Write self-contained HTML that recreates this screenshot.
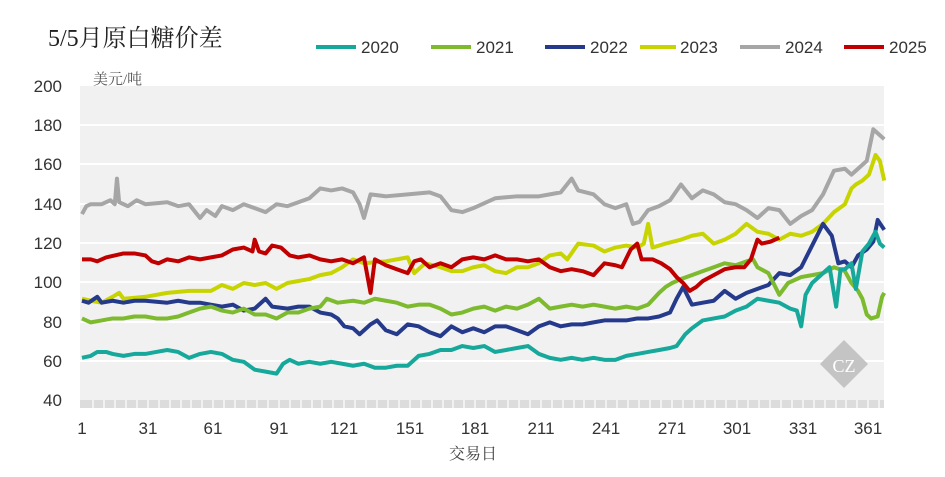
<!DOCTYPE html>
<html><head><meta charset="utf-8"><style>
body{margin:0;background:#fff;width:945px;height:472px;overflow:hidden;font-family:"Liberation Sans","Noto Sans CJK SC",sans-serif}
</style></head><body>
<svg width="945" height="472" xmlns="http://www.w3.org/2000/svg" font-family="Liberation Sans, Noto Sans CJK SC, sans-serif">
<text x="48" y="46" font-size="24" font-family="Liberation Serif, Noto Serif CJK SC, serif" fill="#222">5/5月原白糖价差</text>
<g font-size="17" fill="#333">
<line x1="316" y1="47" x2="356" y2="47" stroke="#16a89a" stroke-width="4"/><text x="361" y="53">2020</text>
<line x1="431" y1="47" x2="471" y2="47" stroke="#7dba2e" stroke-width="4"/><text x="476" y="53">2021</text>
<line x1="545" y1="47" x2="585" y2="47" stroke="#263a8c" stroke-width="4"/><text x="590" y="53">2022</text>
<line x1="640" y1="47" x2="676" y2="47" stroke="#c8d400" stroke-width="4"/><text x="680" y="53">2023</text>
<line x1="740" y1="47" x2="780" y2="47" stroke="#a6a6a6" stroke-width="4"/><text x="785" y="53">2024</text>
<line x1="844" y1="47" x2="884" y2="47" stroke="#c00000" stroke-width="4"/><text x="889" y="53">2025</text>
</g>
<rect x="80" y="86" width="804" height="314" fill="#f1f1f1"/>
<g stroke="#fff" stroke-width="2">
<line x1="80" y1="125" x2="884" y2="125"/><line x1="80" y1="164" x2="884" y2="164"/><line x1="80" y1="204" x2="884" y2="204"/><line x1="80" y1="243" x2="884" y2="243"/><line x1="80" y1="282" x2="884" y2="282"/><line x1="80" y1="322" x2="884" y2="322"/><line x1="80" y1="361" x2="884" y2="361"/>
</g>
<rect x="80" y="400" width="804" height="8" fill="#dcdcdc"/>
<g stroke="#fff" stroke-width="1" id="ticks"></g>
<g font-size="17" fill="#333" text-anchor="end">
<text x="62" y="92">200</text><text x="62" y="131">180</text><text x="62" y="170">160</text><text x="62" y="210">140</text><text x="62" y="249">120</text><text x="62" y="288">100</text><text x="62" y="328">80</text><text x="62" y="367">60</text><text x="62" y="406">40</text>
</g>
<text x="93" y="84" font-size="15" fill="#555" font-family="Liberation Serif, Noto Serif CJK SC, serif">美元/吨</text>
<g font-size="17" fill="#333" text-anchor="middle">
<text x="82" y="434">1</text><text x="148" y="434">31</text><text x="213" y="434">61</text><text x="279" y="434">91</text><text x="344" y="434">121</text><text x="410" y="434">151</text><text x="475" y="434">181</text><text x="541" y="434">211</text><text x="606" y="434">241</text><text x="672" y="434">271</text><text x="737" y="434">301</text><text x="803" y="434">331</text><text x="868" y="434">361</text>
</g>
<text x="473" y="459" font-size="16" fill="#444" text-anchor="middle" font-family="Liberation Serif, Noto Serif CJK SC, serif">交易日</text>
<g transform="translate(844,364) rotate(45)"><rect x="-17" y="-17" width="34" height="34" fill="#c4c4c4"/></g>
<text x="844" y="372" font-size="18" fill="#fff" text-anchor="middle" font-family="Liberation Serif, serif">CZ</text>
<g transform="translate(79.8,480) scale(2.186,-1.97)" fill="none" stroke-width="4" stroke-linejoin="round">
<polyline vector-effect="non-scaling-stroke" stroke="#a6a6a6" points="1,135 3,139 5,140 10,140 14,142 16,140 17,153 18,141 22,139 26,142 30,140 40,141 45,139 50,140 55,133 58,137 62,134 65,139 70,137 75,140 80,138 85,136 90,140 95,139 100,141 105,143 110,148 115,147 120,148 125,146 128,140 130,133 133,145 140,144 150,145 160,146 165,144 170,137 175,136 180,138 190,143 200,144 210,144 215,145 220,146 225,153 228,147 235,145 240,140 245,138 250,140 253,130 256,131 260,137 265,139 270,142 275,150 280,143 285,147 290,145 295,141 300,140 305,137 310,133 315,138 320,137 325,130 330,134 335,137 340,145 345,157 350,158 353,155 356,158 360,162 363,178 366,175 368,173"/>
<polyline vector-effect="non-scaling-stroke" stroke="#c8d400" points="1,92 5,91 10,90 15,93 18,95 20,92 30,93 40,95 50,96 60,96 65,99 70,97 75,100 80,99 85,100 90,97 95,100 100,101 105,102 110,104 115,105 120,108 125,112 130,110 140,111 145,112 150,113 153,105 158,110 165,108 170,106 175,106 180,108 185,109 190,106 195,105 200,108 205,108 210,110 215,114 220,115 223,112 228,120 235,119 240,116 245,118 250,119 255,118 258,120 260,130 262,118 268,120 275,122 280,124 285,125 290,120 295,122 300,125 305,130 310,126 315,125 320,122 325,125 330,124 335,126 340,130 345,136 350,140 353,148 355,150 358,152 361,155 364,165 366,162 368,152"/>
<polyline vector-effect="non-scaling-stroke" stroke="#263a8c" points="1,91 4,90 8,93 10,90 15,91 20,90 25,91 30,91 40,90 45,91 50,90 55,90 60,89 65,88 70,89 75,86 80,87 85,92 88,88 95,87 100,88 105,88 110,85 115,84 118,82 121,78 125,77 128,74 133,79 136,81 140,76 145,74 150,79 155,78 160,75 165,73 170,78 175,75 180,77 185,75 190,78 195,78 200,76 205,74 210,78 215,80 220,78 225,79 230,79 235,80 240,81 245,81 250,81 255,82 260,82 265,83 270,85 273,92 276,98 280,89 285,90 290,91 295,96 300,92 305,95 310,97 315,99 320,105 325,104 330,108 335,119 340,130 344,124 347,110 350,111 353,108 356,114 360,117 363,121 365,132 368,127"/>
<polyline vector-effect="non-scaling-stroke" stroke="#7dba2e" points="1,82 5,80 10,81 15,82 20,82 25,83 30,83 35,82 40,82 45,83 50,85 55,87 60,88 65,86 70,85 75,87 80,84 85,84 90,82 95,85 100,85 105,87 110,88 113,92 118,90 125,91 130,90 135,92 140,91 145,90 150,88 155,89 160,89 165,87 170,84 175,85 180,87 185,88 190,86 195,88 200,87 205,89 210,92 215,87 220,88 225,89 230,88 235,89 240,88 245,87 250,88 255,87 260,89 265,95 268,98 271,100 275,102 280,104 285,106 290,108 295,110 300,109 305,111 308,112 310,108 315,105 320,94 324,100 330,103 335,104 340,105 345,108 350,106 353,100 356,96 358,92 360,84 362,82 365,83 367,93 368,95"/>
<polyline vector-effect="non-scaling-stroke" stroke="#16a89a" points="1,62 5,63 8,65 12,65 15,64 20,63 25,64 30,64 35,65 40,66 45,65 50,62 55,64 60,65 65,64 70,61 75,60 80,56 85,55 90,54 93,59 96,61 100,59 105,60 110,59 115,60 120,59 125,58 130,59 135,57 140,57 145,58 150,58 155,63 160,64 165,66 170,66 175,68 180,67 185,68 190,65 195,66 200,67 205,68 210,64 215,62 220,61 225,62 230,61 235,62 240,61 245,61 250,63 255,64 260,65 265,66 270,67 273,68 277,74 280,77 285,81 290,82 295,83 300,86 305,88 310,92 315,91 320,90 325,87 328,86 330,78 332,94 335,100 338,103 340,105 343,108 346,88 348,107 350,107 353,110 355,97 358,116 361,120 364,126 366,120 368,118"/>
<polyline vector-effect="non-scaling-stroke" stroke="#c00000" points="1,112 5,112 8,111 12,113 16,114 20,115 25,115 30,114 33,111 36,110 40,112 45,111 50,113 55,112 60,113 65,114 70,117 75,118 79,116 80,122 82,116 85,115 88,119 92,118 96,114 100,113 105,114 110,112 115,111 120,112 125,110 130,113 133,95 135,112 140,109 145,107 150,105 153,111 156,112 160,108 165,110 170,108 175,112 180,113 185,112 190,114 195,112 200,112 205,111 210,112 215,108 220,106 225,107 230,106 235,104 240,110 245,109 248,108 252,117 255,120 257,112 262,112 266,110 270,107 273,103 276,100 279,96 282,98 285,101 290,104 295,107 300,108 304,108 307,112 310,122 312,120 316,121 320,123"/>
</g>
<g stroke="#fff" stroke-width="1.2">
<line x1="93" y1="400" x2="93" y2="408"/><line x1="104" y1="400" x2="104" y2="408"/><line x1="115" y1="400" x2="115" y2="408"/><line x1="126" y1="400" x2="126" y2="408"/><line x1="137" y1="400" x2="137" y2="408"/><line x1="148" y1="400" x2="148" y2="408"/><line x1="159" y1="400" x2="159" y2="408"/><line x1="170" y1="400" x2="170" y2="408"/><line x1="181" y1="400" x2="181" y2="408"/><line x1="191" y1="400" x2="191" y2="408"/><line x1="202" y1="400" x2="202" y2="408"/><line x1="213" y1="400" x2="213" y2="408"/><line x1="224" y1="400" x2="224" y2="408"/><line x1="235" y1="400" x2="235" y2="408"/><line x1="246" y1="400" x2="246" y2="408"/><line x1="257" y1="400" x2="257" y2="408"/><line x1="268" y1="400" x2="268" y2="408"/><line x1="279" y1="400" x2="279" y2="408"/><line x1="290" y1="400" x2="290" y2="408"/><line x1="301" y1="400" x2="301" y2="408"/><line x1="312" y1="400" x2="312" y2="408"/><line x1="322" y1="400" x2="322" y2="408"/><line x1="333" y1="400" x2="333" y2="408"/><line x1="344" y1="400" x2="344" y2="408"/><line x1="355" y1="400" x2="355" y2="408"/><line x1="366" y1="400" x2="366" y2="408"/><line x1="377" y1="400" x2="377" y2="408"/><line x1="388" y1="400" x2="388" y2="408"/><line x1="399" y1="400" x2="399" y2="408"/><line x1="410" y1="400" x2="410" y2="408"/><line x1="421" y1="400" x2="421" y2="408"/><line x1="432" y1="400" x2="432" y2="408"/><line x1="443" y1="400" x2="443" y2="408"/><line x1="453" y1="400" x2="453" y2="408"/><line x1="464" y1="400" x2="464" y2="408"/><line x1="475" y1="400" x2="475" y2="408"/><line x1="486" y1="400" x2="486" y2="408"/><line x1="497" y1="400" x2="497" y2="408"/><line x1="508" y1="400" x2="508" y2="408"/><line x1="519" y1="400" x2="519" y2="408"/><line x1="530" y1="400" x2="530" y2="408"/><line x1="541" y1="400" x2="541" y2="408"/><line x1="552" y1="400" x2="552" y2="408"/><line x1="563" y1="400" x2="563" y2="408"/><line x1="574" y1="400" x2="574" y2="408"/><line x1="584" y1="400" x2="584" y2="408"/><line x1="595" y1="400" x2="595" y2="408"/><line x1="606" y1="400" x2="606" y2="408"/><line x1="617" y1="400" x2="617" y2="408"/><line x1="628" y1="400" x2="628" y2="408"/><line x1="639" y1="400" x2="639" y2="408"/><line x1="650" y1="400" x2="650" y2="408"/><line x1="661" y1="400" x2="661" y2="408"/><line x1="672" y1="400" x2="672" y2="408"/><line x1="683" y1="400" x2="683" y2="408"/><line x1="694" y1="400" x2="694" y2="408"/><line x1="705" y1="400" x2="705" y2="408"/><line x1="715" y1="400" x2="715" y2="408"/><line x1="726" y1="400" x2="726" y2="408"/><line x1="737" y1="400" x2="737" y2="408"/><line x1="748" y1="400" x2="748" y2="408"/><line x1="759" y1="400" x2="759" y2="408"/><line x1="770" y1="400" x2="770" y2="408"/><line x1="781" y1="400" x2="781" y2="408"/><line x1="792" y1="400" x2="792" y2="408"/><line x1="803" y1="400" x2="803" y2="408"/><line x1="814" y1="400" x2="814" y2="408"/><line x1="825" y1="400" x2="825" y2="408"/><line x1="836" y1="400" x2="836" y2="408"/><line x1="846" y1="400" x2="846" y2="408"/><line x1="857" y1="400" x2="857" y2="408"/><line x1="868" y1="400" x2="868" y2="408"/><line x1="879" y1="400" x2="879" y2="408"/>
</g>
</svg>
</body></html>
